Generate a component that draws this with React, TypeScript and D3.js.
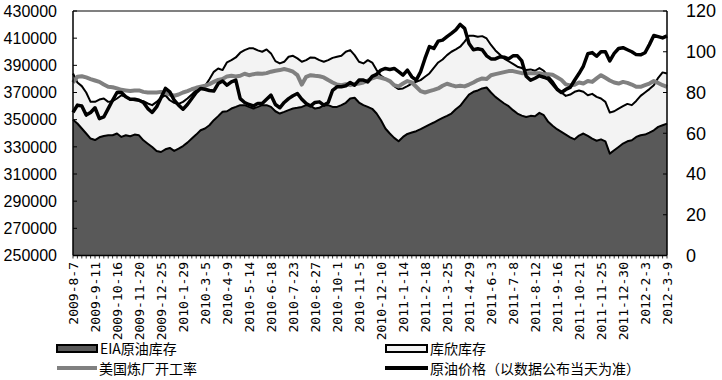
import React from "react";
import * as d3 from "d3";

// ---------- data (weekly, 2009-8-7 .. 2012-3-9) ----------
const weeks: Date[] = d3.utcDay.range(new Date(Date.UTC(2009, 7, 7)), new Date(Date.UTC(2012, 2, 10)), 7);

const tickLabels = [
  "2009-8-7", "2009-9-11", "2009-10-16", "2009-11-20", "2009-12-25", "2010-1-29", "2010-3-5",
  "2010-4-9", "2010-5-14", "2010-6-18", "2010-7-23", "2010-8-27", "2010-10-1", "2010-11-5",
  "2010-12-10", "2011-1-14", "2011-2-18", "2011-3-25", "2011-4-29", "2011-6-3", "2011-7-8",
  "2011-8-12", "2011-9-16", "2011-10-21", "2011-11-25", "2011-12-30", "2012-2-3", "2012-3-9",
];

const leftTicks = [250000, 270000, 290000, 310000, 330000, 350000, 370000, 390000, 410000, 430000];
const rightTicks = [0, 20, 40, 60, 80, 100, 120];

// EIA crude stock
const eia = [
  350000, 347200, 343500, 339800, 336100, 335000, 337000, 338000, 338500, 338500,
  339800, 337300, 338500, 337800, 339000, 338500, 334800, 332300, 329900, 327000,
  326200, 328200, 329200, 327000, 328700, 330600, 333100, 336100, 339000, 342200,
  343500, 345900, 349600, 352600, 355800, 356200, 358200, 359400, 360700, 360700,
  359400, 358200, 359400, 360700, 360700, 359400, 356200, 354500, 355700, 357000,
  358200, 358700, 359400, 360700, 360200, 358200, 358700, 360700, 360700, 359400,
  359400, 360700, 362400, 365600, 366100, 362600, 360700, 359400, 358000, 354500,
  349600, 343500, 339800, 336600, 334100, 337300, 339500, 340500, 341500, 343000,
  344700, 346400, 347900, 349600, 351300, 352800, 354500, 357700, 360200, 364300,
  368500, 370500, 371500, 373000, 373700, 370000, 366800, 364300, 361900, 359900,
  357000, 354500, 353000, 352000, 352800, 352500, 355000, 353300, 348400, 345500,
  343000, 341000, 339000, 337000, 335500, 338300, 339800, 338000, 336000, 334500,
  335500, 334000, 325000, 327500, 329900, 332400, 334100, 334800, 337300, 338500,
  339000, 340500, 342200, 344700, 345900, 347100,
];

// Cushing stock, plotted stacked on EIA (top of the light area)
const cushingTop = [
  384000, 377400, 374700, 370000, 363100, 363100, 364800, 365600, 363100, 363600,
  365600, 368000, 366800, 364800, 364300, 364300, 363600, 361900, 360700, 363100,
  366100, 368000, 364300, 362400, 361600, 363100, 365600, 368500, 371700, 373400,
  374700, 379800, 385200, 387700, 386500, 392200, 393800, 395800, 399300, 401200,
  402500, 402500, 401000, 400000, 401700, 398800, 393100, 391400, 392600, 396300,
  397000, 395100, 392600, 393800, 395800, 395500, 393800, 392600, 393800, 395500,
  396300, 397000, 400000, 401200, 397500, 392600, 391400, 393800, 392000, 386500,
  382300, 380300, 378400, 374700, 372500, 373000, 374700, 376600, 377900, 379100,
  381600, 384000, 388200, 392100, 394300, 397500, 400000, 401700, 403700, 407400,
  411800, 411800, 411100, 411500, 409800, 405000, 401000, 398000, 395000, 393000,
  391000, 389000, 388000, 386500, 387000, 386000, 388000, 386000, 382000, 378400,
  373400, 370000, 367500, 368500, 370500, 371500, 370500, 368000, 369000, 366800,
  365600, 363100, 355200, 356200, 358200, 359900, 361600, 360700, 363800, 367500,
  370000, 372500, 375400, 380800, 384800, 384000,
];

// US refinery utilisation (%)
const refinery = [
  84.9, 87.7, 88.0, 87.4, 86.6, 85.9, 85.2, 83.9, 82.8, 82.6,
  82.0, 81.3, 81.0, 80.7, 81.0, 81.0, 80.3, 80.0, 80.0, 80.0,
  80.3, 79.8, 79.0, 78.4, 79.0, 80.0, 80.7, 81.6, 82.3, 82.8,
  83.3, 84.1, 85.2, 86.2, 86.6, 87.9, 88.2, 87.9, 88.2, 89.2,
  88.5, 89.0, 89.3, 89.2, 89.5, 90.2, 90.7, 91.0, 91.5, 91.0,
  90.2, 88.5, 83.9, 87.7, 88.5, 88.2, 88.0, 87.4, 86.1, 84.9,
  83.9, 83.6, 84.1, 83.6, 84.1, 84.4, 84.9, 85.9, 87.0, 87.7,
  87.2, 86.6, 85.6, 83.6, 83.0, 84.4, 85.6, 84.9, 82.8, 80.7,
  80.0, 80.7, 81.3, 82.0, 83.3, 84.3, 83.6, 83.0, 83.3, 83.0,
  83.9, 84.9, 86.1, 86.9, 86.6, 88.5, 89.0, 89.5, 90.0, 90.5,
  90.5, 90.0, 89.5, 89.5, 89.5, 89.5, 89.5, 89.0, 89.0, 88.7,
  87.5, 86.2, 84.0, 83.5, 83.8, 84.9, 84.4, 85.6, 85.2, 86.9,
  88.5, 87.2, 85.9, 84.9, 84.4, 85.2, 84.7, 83.9, 82.8, 82.8,
  83.6, 84.4, 85.6, 84.7, 83.6, 82.8,
];

// crude price
const price = [
  70.2, 73.8, 73.4, 68.9, 70.2, 72.5, 67.2, 68.0, 72.1, 76.2,
  80.0, 80.0, 77.9, 76.7, 76.7, 76.2, 75.1, 72.1, 70.2, 72.9,
  77.4, 82.0, 80.3, 76.2, 73.8, 71.8, 74.1, 77.1, 80.0, 82.0,
  81.6, 81.0, 80.7, 84.4, 85.6, 83.6, 85.2, 86.1, 77.0, 75.1,
  74.1, 73.4, 74.6, 74.6, 76.7, 78.7, 74.1, 72.5, 75.1, 77.0,
  78.4, 79.5, 76.7, 74.6, 73.4, 75.1, 75.4, 73.8, 75.1, 81.1,
  82.8, 82.8, 83.3, 84.9, 83.6, 86.1, 86.1, 85.2, 87.9, 88.9,
  91.0, 91.8, 91.3, 91.8, 90.2, 88.5, 91.0, 87.7, 86.1, 90.2,
  96.7, 102.5, 101.6, 105.2, 105.7, 107.4, 109.0, 110.7, 113.4, 111.5,
  104.0, 101.0, 101.5, 101.0, 98.0, 96.5, 96.5, 97.5, 97.3, 96.5,
  98.0, 98.0, 95.5, 88.0, 86.0, 87.0, 88.2, 87.5, 86.7, 84.2,
  81.6, 80.0, 81.5, 82.5, 86.0, 89.3, 93.0, 99.0, 99.6, 97.8,
  100.0, 100.0, 95.5, 99.2, 101.6, 102.0, 101.0, 100.0, 98.6, 98.5,
  99.5, 103.5, 108.0, 107.4, 106.8, 107.8,
];

const legendNames = ["EIA原油库存", "库欣库存", "美国炼厂开工率", "原油价格（以数据公布当天为准）"];

// ---------- layout ----------
const W = 722;
const H = 380;
const P = { left: 73, right: 667, top: 11, bottom: 255.5 };
const NUM_FONT = "'Liberation Sans', Arial, sans-serif";
const CJK_FONT = "'Noto Sans CJK SC', 'Noto Sans', sans-serif";
const MONO_FONT = "'DejaVu Sans Mono', 'Liberation Mono', monospace";

export default function App() {
  const idx = weeks.map((_, i) => i);
  const x = d3.scalePoint<number>().domain(idx).range([P.left, P.right]).padding(0);
  const yL = d3.scaleLinear().domain([250000, 430000]).range([P.bottom, P.top]);
  const yR = d3.scaleLinear().domain([0, 120]).range([P.bottom, P.top]);

  const areaL = d3.area<number>().x((_, i) => x(i) as number).y0(P.bottom).y1((d) => yL(d));
  const lineL = d3.line<number>().x((_, i) => x(i) as number).y((d) => yL(d));
  const lineR = d3.line<number>().x((_, i) => x(i) as number).y((d) => yR(d));

  return (
    <svg width={W} height={H} style={{ position: "absolute", left: 0, top: 0, background: "#fff" }}>
      <rect x={0} y={0} width={W} height={H} fill="#fff" />
      {/* areas */}
      <path d={areaL(cushingTop) || ""} fill="#f3f3f3" />
      <path d={lineL(cushingTop) || ""} fill="none" stroke="#000" strokeWidth={2} strokeLinejoin="round" />
      <path d={areaL(eia) || ""} fill="#595959" />
      <path d={lineL(eia) || ""} fill="none" stroke="#000" strokeWidth={2} strokeLinejoin="round" />
      {/* lines */}
      <path d={lineR(refinery) || ""} fill="none" stroke="#808080" strokeWidth={4} strokeLinejoin="round" />
      <path d={lineR(price) || ""} fill="none" stroke="#000" strokeWidth={3.5} strokeLinejoin="round" />

      {/* frame */}
      <line x1={P.left} x2={P.right} y1={P.top} y2={P.top} stroke="#808080" strokeWidth={2} />
      <line x1={P.left} x2={P.left} y1={P.top} y2={P.bottom} stroke="#000" strokeWidth={1.5} />
      <line x1={P.right} x2={P.right} y1={P.top} y2={P.bottom} stroke="#000" strokeWidth={1.5} />
      <line x1={P.left} x2={P.right} y1={P.bottom} y2={P.bottom} stroke="#000" strokeWidth={1.5} />

      {/* left axis */}
      {leftTicks.map((t) => (
        <g key={"l" + t}>
          <line x1={P.left} x2={P.left + 4} y1={yL(t)} y2={yL(t)} stroke="#000" />
          <text x={57} y={yL(t)} dy="0.36em" textAnchor="end" fontFamily={NUM_FONT} fontSize={16} fill="#000">
            {t}
          </text>
        </g>
      ))}
      {/* right axis */}
      {rightTicks.map((t) => (
        <g key={"r" + t}>
          <line x1={P.right - 4} x2={P.right} y1={yR(t)} y2={yR(t)} stroke="#000" />
          <text x={686} y={yR(t)} dy="0.36em" textAnchor="start" fontFamily={NUM_FONT} fontSize={18} fill="#000">
            {t}
          </text>
        </g>
      ))}
      {/* category ticks */}
      {idx.map((i) => (
        <line key={"t" + i} x1={x(i)} x2={x(i)} y1={P.bottom} y2={P.bottom + 3} stroke="#000" strokeWidth={0.8} />
      ))}
      {tickLabels.map((lab, k) => {
        const xi = x(k * 5) as number;
        return (
          <text
            key={lab}
            transform={`translate(${xi},262) rotate(-90)`}
            dy="0.36em"
            textAnchor="end"
            fontFamily={MONO_FONT}
            fontSize={13}
            fill="#000"
          >
            {lab}
          </text>
        );
      })}

      {/* legend */}
      <rect x={57} y={345} width={40} height={7} fill="#595959" stroke="#000" strokeWidth={2} />
      <text x={100} y={349} dy="0.35em" fontFamily={CJK_FONT} fontSize={14} fill="#000">{legendNames[0]}</text>
      <rect x={386} y={345} width={41} height={7} fill="#f3f3f3" stroke="#000" strokeWidth={2} />
      <text x={430} y={349} dy="0.35em" fontFamily={CJK_FONT} fontSize={14} fill="#000">{legendNames[1]}</text>
      <line x1={57} x2={97} y1={368} y2={368} stroke="#808080" strokeWidth={4} />
      <text x={99} y={369} dy="0.35em" fontFamily={CJK_FONT} fontSize={14} fill="#000">{legendNames[2]}</text>
      <line x1={385} x2={428} y1={368} y2={368} stroke="#000" strokeWidth={4} />
      <text x={430} y={369} dy="0.35em" fontFamily={CJK_FONT} fontSize={14} fill="#000">{legendNames[3]}</text>
    </svg>
  );
}
